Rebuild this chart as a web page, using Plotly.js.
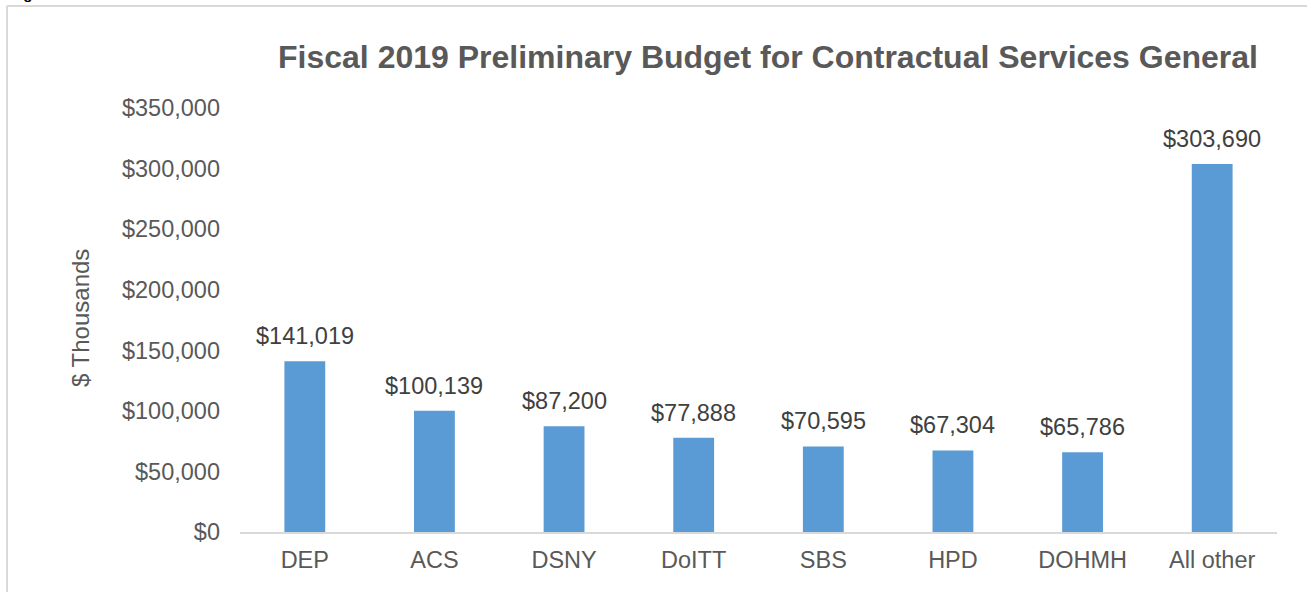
<!DOCTYPE html>
<html>
<head>
<meta charset="utf-8">
<script src="https://cdn.plot.ly/plotly-3.0.1.min.js"></script>
<style>html,body{margin:0;padding:0;background:#fff;}#chart{width:1307px;height:592px;}</style>
</head>
<body>
<div id="chart"></div>
<script>
const categories = ["DEP", "ACS", "DSNY", "DoITT", "SBS", "HPD", "DOHMH", "All other"];
const values = [141019, 100139, 87200, 77888, 70595, 67304, 65786, 303690];
const tickValues = [0, 50000, 100000, 150000, 200000, 250000, 300000, 350000];
const tickLabels = ["$0", "$50,000", "$100,000", "$150,000", "$200,000", "$250,000", "$300,000", "$350,000"];
const valueLabels = values.map(v => "$" + v.toLocaleString("en-US"));

const L = 240, R = 30, T = 108, B = 60, W = 1307, H = 592;
const pw = W - L - R, ph = H - T - B;
const px = x => (x - L) / pw;
const py = y => (H - B - y) / ph;
const FONT = "Liberation Sans, Arial, sans-serif";

const trace = {
  type: "bar",
  x: categories,
  y: values,
  marker: {color: "#5B9BD5"},
  width: 0.315,
  hoverinfo: "x+y"
};

const labelAnnotations = categories.map((c, i) => ({
  x: c, y: values[i], xref: "x", yref: "y",
  text: valueLabels[i],
  showarrow: false,
  xanchor: "center", yanchor: "bottom",
  yshift: 10,
  font: {family: FONT, size: 23.5, color: "#404040"}
}));

const layout = {
  width: W, height: H,
  margin: {l: L, r: R, t: T, b: B},
  paper_bgcolor: "#ffffff",
  plot_bgcolor: "#ffffff",
  showlegend: false,
  font: {family: FONT, color: "#595959"},
  title: {
    text: "<b>Fiscal 2019 Preliminary Budget for Contractual Services General</b>",
    font: {size: 32, color: "#595959", family: FONT},
    x: 768 / W, xanchor: "center",
    y: 1 - 57 / H, yanchor: "middle"
  },
  xaxis: {
    type: "category",
    showgrid: false,
    showline: true, linecolor: "#d9d9d9", linewidth: 2,
    ticks: "",
    tickfont: {size: 23.5, color: "#595959"},
    ticklabelstandoff: 6
  },
  yaxis: {
    range: [0, 350000],
    tickvals: tickValues,
    ticktext: tickLabels,
    showgrid: false,
    zeroline: false,
    showline: false,
    ticks: "",
    tickfont: {size: 23.5, color: "#595959"},
    ticklabelstandoff: 19
  },
  shapes: [
    {type: "line", xref: "paper", yref: "paper", x0: px(7), x1: px(7), y0: py(600), y1: py(6), line: {color: "#d9d9d9", width: 2}},
    {type: "line", xref: "paper", yref: "paper", x0: px(7), x1: px(1320), y0: py(6), y1: py(6), line: {color: "#d9d9d9", width: 2}}
  ],
  annotations: labelAnnotations.concat([
    {text: "$ Thousands", xref: "paper", yref: "paper", x: px(80), y: py(318), xanchor: "center", yanchor: "middle", textangle: -90, showarrow: false, font: {family: FONT, size: 24, color: "#595959"}},
    {text: "<b>Figure 8</b>", xref: "paper", yref: "paper", x: px(8), y: py(4), xanchor: "left", yanchor: "bottom", showarrow: false, font: {family: FONT, size: 15, color: "#000000"}}
  ])
};

Plotly.newPlot("chart", [trace], layout, {displayModeBar: false, responsive: false});
</script>
</body>
</html>
